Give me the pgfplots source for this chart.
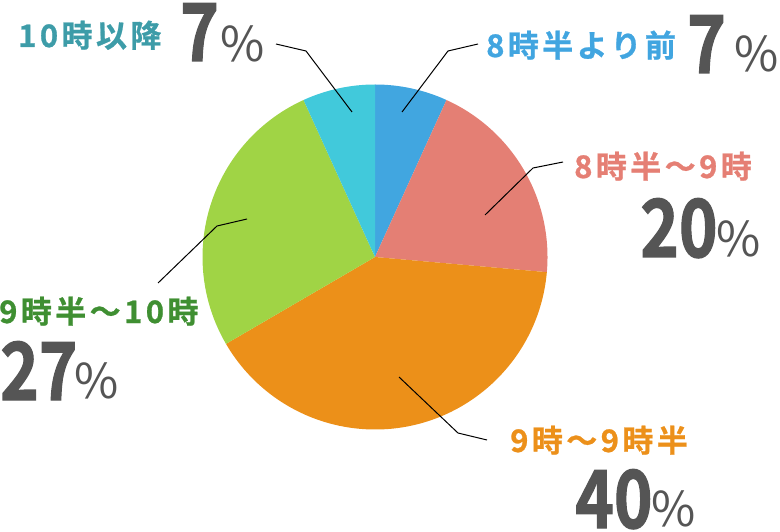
\documentclass[border=0pt]{standalone}
\usepackage{pgfplots}
\pgfplotsset{compat=1.18}
\usepackage{graphicx}
\usepackage{fontspec}
\setmainfont{Noto Sans CJK JP}[BoldFont=* Bold]
\newfontfamily\labfont{Noto Sans CJK JP}[BoldFont=* Bold, LetterSpace=11, BoldFeatures={FakeBold=0.8}]
\newfontfamily\numfont{Noto Sans CJK JP}[BoldFont=* Bold, BoldFeatures={FakeBold=1.6}]
\definecolor{cBlue}{HTML}{41A6E0}
\definecolor{cSalmon}{HTML}{E47F74}
\definecolor{cOrange}{HTML}{EC9019}
\definecolor{cGreen}{HTML}{A0D445}
\definecolor{cCyan}{HTML}{41C9DB}
\definecolor{tTeal}{HTML}{3D9CA8}
\definecolor{tBlue}{HTML}{41A5E0}
\definecolor{tSalmon}{HTML}{E57F74}
\definecolor{tOrange}{HTML}{EC901A}
\definecolor{tGreen}{HTML}{3F8F32}
\definecolor{tGray}{HTML}{555555}
% slice shares (percent), clockwise from 12 o'clock
\def\vA{6.8}  % 8時半より前
\def\vB{19.6} % 8時半～9時
\def\vC{40.2} % 9時～9時半
\def\vD{26.6} % 9時半～10時
\def\vE{6.8}  % 10時以降
\pgfmathsetmacro\aA{90}
\pgfmathsetmacro\aB{\aA-3.6*\vA}
\pgfmathsetmacro\aC{\aB-3.6*\vB}
\pgfmathsetmacro\aD{\aC-3.6*\vC}
\pgfmathsetmacro\aE{\aD-3.6*\vD}
\pgfmathsetmacro\aF{\aE-3.6*\vE}
\newcommand\lab[2]{{\labfont\bfseries\fontsize{31bp}{31bp}\selectfont\color{#1}#2}}
\newcommand\bignum[1]{{\numfont\bfseries\fontsize{80bp}{80bp}\selectfont\color{tGray}\scalebox{0.82}[1]{#1}}}
\newcommand\pct{{\fontsize{48bp}{48bp}\selectfont\color{tGray}\%}}
\begin{document}
\begin{tikzpicture}
\begin{axis}[scale only axis, width=780bp, height=531bp,
  xmin=0, xmax=780, ymin=0, ymax=531, hide axis, clip=false]
\def\cx{375}\def\cy{274}\def\rr{172.5bp}
\fill[cBlue] (axis cs:\cx,\cy) -- ++(\aA:\rr) arc[start angle=\aA, end angle=\aB, radius=\rr] -- cycle;
\fill[cSalmon] (axis cs:\cx,\cy) -- ++(\aB:\rr) arc[start angle=\aB, end angle=\aC, radius=\rr] -- cycle;
\fill[cOrange] (axis cs:\cx,\cy) -- ++(\aC:\rr) arc[start angle=\aC, end angle=\aD, radius=\rr] -- cycle;
\fill[cGreen] (axis cs:\cx,\cy) -- ++(\aD:\rr) arc[start angle=\aD, end angle=\aE, radius=\rr] -- cycle;
\fill[cCyan] (axis cs:\cx,\cy) -- ++(\aE:\rr) arc[start angle=\aE, end angle=\aF, radius=\rr] -- cycle;
% leader lines
\addplot[black, line width=1bp] coordinates {(276,487) (306,480) (352,419)};
\addplot[black, line width=1bp] coordinates {(478,487) (448,480) (402,419)};
\addplot[black, line width=1bp] coordinates {(563,369) (533,363) (485,316)};
\addplot[black, line width=1bp] coordinates {(247,312) (217,305) (158,248)};
\addplot[black, line width=1bp] coordinates {(399,154) (458,98) (487,91)};
% labels
\node[anchor=base west, inner sep=0] at (axis cs:18,484) {\lab{tTeal}{10時以降}};
\node[anchor=base west, inner sep=0] at (axis cs:180,470) {\bignum{7}};
\node[anchor=base west, inner sep=0] at (axis cs:220,469) {\pct};

\node[anchor=base west, inner sep=0] at (axis cs:486,474) {\lab{tBlue}{8時半より前}};
\node[anchor=base west, inner sep=0] at (axis cs:687,458) {\bignum{7}};
\node[anchor=base west, inner sep=0] at (axis cs:734,459) {\pct};

\node[anchor=base west, inner sep=0] at (axis cs:574,353) {\lab{tSalmon}{8時半～9時}};
\node[anchor=base west, inner sep=0] at (axis cs:640,274) {\bignum{20}};
\node[anchor=base west, inner sep=0] at (axis cs:716,274) {\pct};

\node[anchor=base west, inner sep=0] at (axis cs:-1,208) {\lab{tGreen}{9時半～10時}};
\node[anchor=base west, inner sep=0] at (axis cs:0,131) {\bignum{27}};
\node[anchor=base west, inner sep=0] at (axis cs:74,133) {\pct};

\node[anchor=base west, inner sep=0] at (axis cs:510,79) {\lab{tOrange}{9時～9時半}};
\node[anchor=base west, inner sep=0] at (axis cs:575,3) {\bignum{40}};
\node[anchor=base west, inner sep=0] at (axis cs:651,5) {\pct};
\end{axis}
\pgfresetboundingbox
\path (current axis.south west) rectangle (current axis.north east);
\end{tikzpicture}
\end{document}
